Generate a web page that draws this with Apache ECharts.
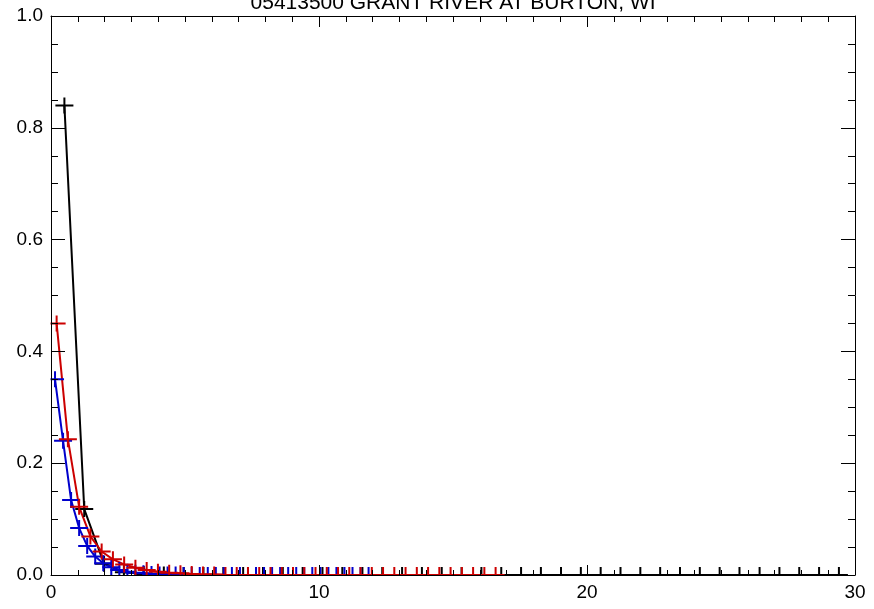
<!DOCTYPE html>
<html>
<head>
<meta charset="utf-8">
<script src="https://cdn.jsdelivr.net/npm/echarts@6/dist/echarts.min.js"></script>
<style>
html,body{margin:0;padding:0;background:#fff;}
#chart{width:874px;height:609px;}
</style>
</head>
<body>
<div id="chart"></div>
<script>
const titleText = "05413500 GRANT RIVER AT BURTON, WI";
const xTickLabels = ["0", "10", "20", "30"];
const yTickLabels = ["0.0", "0.2", "0.4", "0.6", "0.8", "1.0"];

const blackX = [0.5, 1.24, 1.98, 2.72, 3.46, 4.21, 4.95, 5.69, 6.43, 7.17, 7.91, 8.65, 9.39, 10.13, 10.87, 11.62, 12.36, 13.1, 13.84, 14.58, 15.32, 16.06, 16.8, 17.54, 18.28, 19.03, 19.77, 20.51, 21.25, 21.99, 22.73, 23.47, 24.21, 24.95, 25.69, 26.44, 27.18, 27.92, 28.66, 29.4];
const blackY = [0.84, 0.118, 0.02, 0.005, 0.002, 0.001, 0, 0, 0, 0, 0, 0, 0, 0, 0, 0, 0, 0, 0, 0, 0, 0, 0, 0, 0, 0, 0, 0, 0, 0, 0, 0, 0, 0, 0, 0, 0, 0, 0, 0];

const redX = [0.21, 0.63, 1.05, 1.47, 1.89, 2.31, 2.73, 3.15, 3.57, 3.99, 4.41, 4.83, 5.25, 5.67, 6.09, 6.51, 6.93, 7.35, 7.77, 8.19, 8.61, 9.03, 9.45, 9.87, 10.29, 10.71, 11.13, 11.55, 11.97, 12.39, 12.81, 13.23, 13.65, 14.07, 14.49, 14.91, 15.33, 15.75, 16.17, 16.59];
const redY = [0.45, 0.243, 0.122, 0.069, 0.042, 0.028, 0.019, 0.013, 0.009, 0.006, 0.004, 0.003, 0.002, 0.001, 0.001, 0, 0, 0, 0, 0, 0, 0, 0, 0, 0, 0, 0, 0, 0, 0, 0, 0, 0, 0, 0, 0, 0, 0, 0, 0];

const blueX = [0.15, 0.45, 0.75, 1.05, 1.35, 1.65, 1.95, 2.25, 2.55, 2.85, 3.15, 3.45, 3.75, 4.05, 4.35, 4.65, 4.95, 5.25, 5.55, 5.85, 6.15, 6.45, 6.75, 7.05, 7.35, 7.65, 7.95, 8.25, 8.55, 8.85, 9.15, 9.45, 9.75, 10.05, 10.35, 10.65, 10.95, 11.25, 11.55, 11.85];
const blueY = [0.35, 0.24, 0.134, 0.084, 0.052, 0.033, 0.021, 0.014, 0.009, 0.006, 0.004, 0.003, 0.002, 0.001, 0.001, 0.001, 0, 0, 0, 0, 0, 0, 0, 0, 0, 0, 0, 0, 0, 0, 0, 0, 0, 0, 0, 0, 0, 0, 0, 0];

const GRID = {left: 51, right: 19, top: 16, bottom: 34};
const FONT = "'Liberation Sans', Arial, sans-serif";
const plus = 'path://M8,0 h2 v7 h8 v2 h-8 v7 h-2 v-7 h-8 v-2 h8 z';

function pairs(xs, ys) { return xs.map((x, i) => [x, ys[i]]); }

function mkSeries(name, xs, ys, color) {
  return {
    name: name, type: 'line', data: pairs(xs, ys),
    symbol: plus, symbolSize: [18, 16], showAllSymbol: true,
    lineStyle: {color: color, width: 2},
    itemStyle: {color: color},
    z: 2, clip: true, silent: true
  };
}

const chart = echarts.init(document.getElementById('chart'), null, {renderer: 'canvas'});
const axisCommon = {
  axisLine: {show: true, onZero: false, lineStyle: {color: '#000', width: 1}},
  splitLine: {show: false},
  z: 10
};
chart.setOption({
  animation: false,
  backgroundColor: '#fff',
  grid: GRID,
  xAxis: [
    Object.assign({type: 'value', min: 0, max: 30, interval: 10, position: 'bottom',
      axisTick: {inside: true, length: 10, lineStyle: {color: '#000'}},
      minorTick: {show: true, splitNumber: 10, length: 5, lineStyle: {color: '#000'}},
      axisLabel: {color: '#000', fontSize: 19, fontFamily: FONT, margin: 8,
        formatter: v => xTickLabels[Math.round(v / 10)] }}, axisCommon),
    Object.assign({type: 'value', min: 0, max: 30, interval: 10, position: 'top',
      axisTick: {inside: true, length: 11, lineStyle: {color: '#000'}},
      minorTick: {show: true, splitNumber: 10, length: 6, lineStyle: {color: '#000'}},
      axisLabel: {show: false}}, axisCommon)
  ],
  yAxis: [
    Object.assign({type: 'value', min: 0, max: 1, interval: 0.2, position: 'left',
      axisTick: {inside: true, length: 14, lineStyle: {color: '#000'}},
      minorTick: {show: true, splitNumber: 4, length: 7, lineStyle: {color: '#000'}},
      axisLabel: {color: '#000', fontSize: 19, fontFamily: FONT, margin: 8,
        formatter: v => yTickLabels[Math.round(v / 0.2)] }}, axisCommon),
    Object.assign({type: 'value', min: 0, max: 1, interval: 0.2, position: 'right',
      axisTick: {inside: true, length: 14, lineStyle: {color: '#000'}},
      minorTick: {show: true, splitNumber: 4, length: 7, lineStyle: {color: '#000'}},
      axisLabel: {show: false}}, axisCommon)
  ],
  graphic: [
    {type: 'rect', z: 5, silent: true, shape: {x: 0, y: 576, width: 874, height: 33}, style: {fill: '#fff'}},
    {type: 'rect', z: 5, silent: true, shape: {x: 0, y: 0, width: 50.5, height: 609}, style: {fill: '#fff'}},
    {type: 'text', z: 20, silent: true, x: 453, y: -7,
      style: {text: titleText, fill: '#000', fontSize: 21, fontFamily: FONT, textAlign: 'center', textVerticalAlign: 'top'}}
  ],
  series: [
    mkSeries('black', blackX, blackY, '#000000'),
    mkSeries('blue', blueX, blueY, '#0000cc'),
    mkSeries('red', redX, redY, '#cc0000')
  ]
});
</script>
</body>
</html>
